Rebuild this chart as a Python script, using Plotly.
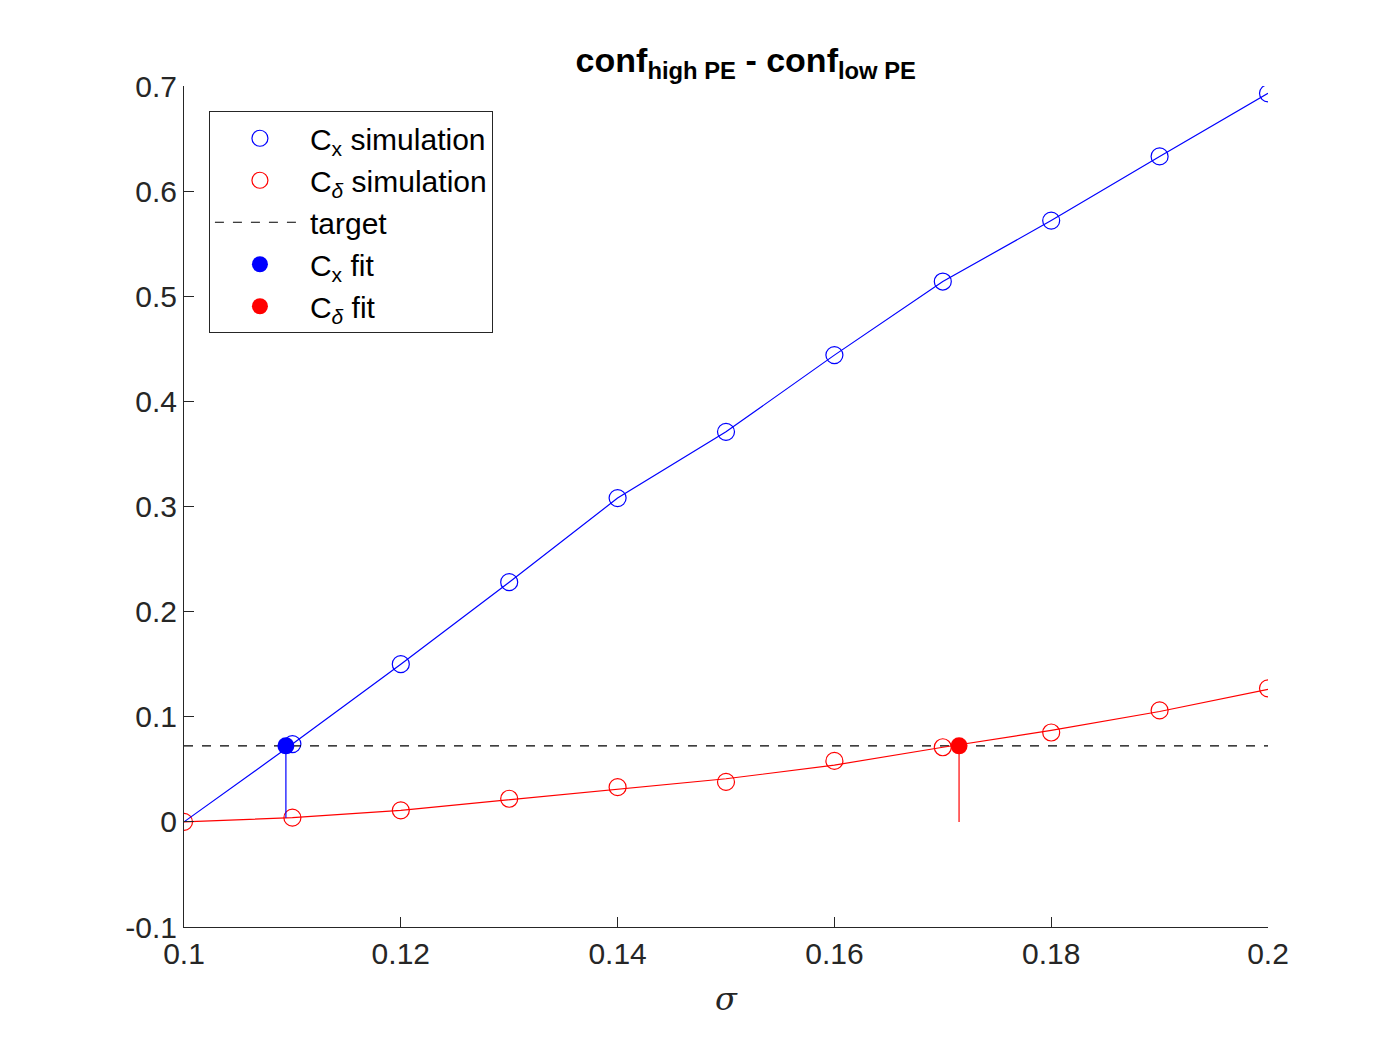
import plotly.graph_objects as go

sigma = [0.10, 0.11, 0.12, 0.13, 0.14, 0.15, 0.16, 0.17, 0.18, 0.19, 0.20]
cx_sim = [None, 0.074, 0.150, 0.228, 0.308, 0.371, 0.444, 0.514, 0.572, 0.633, 0.693]
cx_line = [0.0, 0.074, 0.150, 0.228, 0.308, 0.371, 0.444, 0.514, 0.572, 0.633, 0.693]
cd_sim = [0.0, 0.004, 0.011, 0.022, 0.033, 0.038, 0.058, 0.071, 0.085, 0.106, 0.127]
cd_line = [0.0, 0.004, 0.011, 0.021, 0.031, 0.041, 0.054, 0.071, 0.087, 0.105, 0.126]
target = 0.0723
cx_fit_x = 0.1094
cd_fit_x = 0.1715

BLUE = "#0000ff"
RED = "#ff0000"

fig = go.Figure()
fig.add_trace(go.Scatter(x=sigma, y=cx_sim, mode="markers", name="C<sub>x</sub> simulation",
                         marker=dict(symbol="circle-open", size=17, color=BLUE, line=dict(width=1.2))))
fig.add_trace(go.Scatter(x=sigma, y=cd_sim, mode="markers", name="C<sub><i>δ</i></sub> simulation",
                         marker=dict(symbol="circle-open", size=17, color=RED, line=dict(width=1.2))))
fig.add_trace(go.Scatter(x=[sigma[0], sigma[-1]], y=[target, target], mode="lines", name="target",
                         line=dict(color="black", dash="dash", width=1.2)))
fig.add_trace(go.Scatter(x=[cx_fit_x], y=[target], mode="markers", name="C<sub>x</sub> fit",
                         marker=dict(size=17, color=BLUE)))
fig.add_trace(go.Scatter(x=[cd_fit_x], y=[target], mode="markers", name="C<sub><i>δ</i></sub> fit",
                         marker=dict(size=17, color=RED)))
# fit curves and stems
fig.add_trace(go.Scatter(x=sigma, y=cx_line, mode="lines", line=dict(color=BLUE, width=1.2), showlegend=False))
fig.add_trace(go.Scatter(x=sigma, y=cd_line, mode="lines", line=dict(color=RED, width=1.2), showlegend=False))
fig.add_trace(go.Scatter(x=[cx_fit_x, cx_fit_x], y=[target, 0.004], mode="lines",
                         line=dict(color=BLUE, width=1.2), showlegend=False))
fig.add_trace(go.Scatter(x=[cd_fit_x, cd_fit_x], y=[target, 0], mode="lines",
                         line=dict(color=RED, width=1.2), showlegend=False))

tick_font = dict(family="Arial", size=30, color="#262626")
fig.update_layout(
    width=1400, height=1050, paper_bgcolor="white", plot_bgcolor="white",
    margin=dict(l=176, r=140, t=78, b=131),
    title=dict(text="<b>conf<sub>high PE</sub> - conf<sub>low PE</sub></b>", x=0.527, y=0.962,
               xanchor="center", font=dict(family="Arial", size=34, color="black")),
    font=tick_font,
    legend=dict(x=0.023, y=0.97, xanchor="left", yanchor="top", bordercolor="#262626", borderwidth=1,
                bgcolor="white", font=dict(family="Arial", size=30, color="black"),
                tracegroupgap=12, itemwidth=90),
    xaxis=dict(range=[0.1, 0.2], tickvals=[0.1, 0.12, 0.14, 0.16, 0.18, 0.2],
               ticktext=["0.1", "0.12", "0.14", "0.16", "0.18", "0.2"],
               tickfont=tick_font,
               showgrid=False, zeroline=False, showline=True, linecolor="#262626",
               ticks="inside", ticklen=10, tickcolor="#262626",
               title=dict(text="<i>σ</i>", standoff=18,
                          font=dict(family="DejaVu Serif", size=32, color="#262626"))),
    yaxis=dict(range=[-0.1, 0.7], tickvals=[-0.1, 0, 0.1, 0.2, 0.3, 0.4, 0.5, 0.6, 0.7],
               ticktext=["-0.1", "0", "0.1", "0.2", "0.3", "0.4", "0.5", "0.6", "0.7"],
               tickfont=tick_font,
               showgrid=False, zeroline=False, showline=True, linecolor="#262626",
               ticks="inside", ticklen=10, tickcolor="#262626"),
)
fig.write_html("out.html")
